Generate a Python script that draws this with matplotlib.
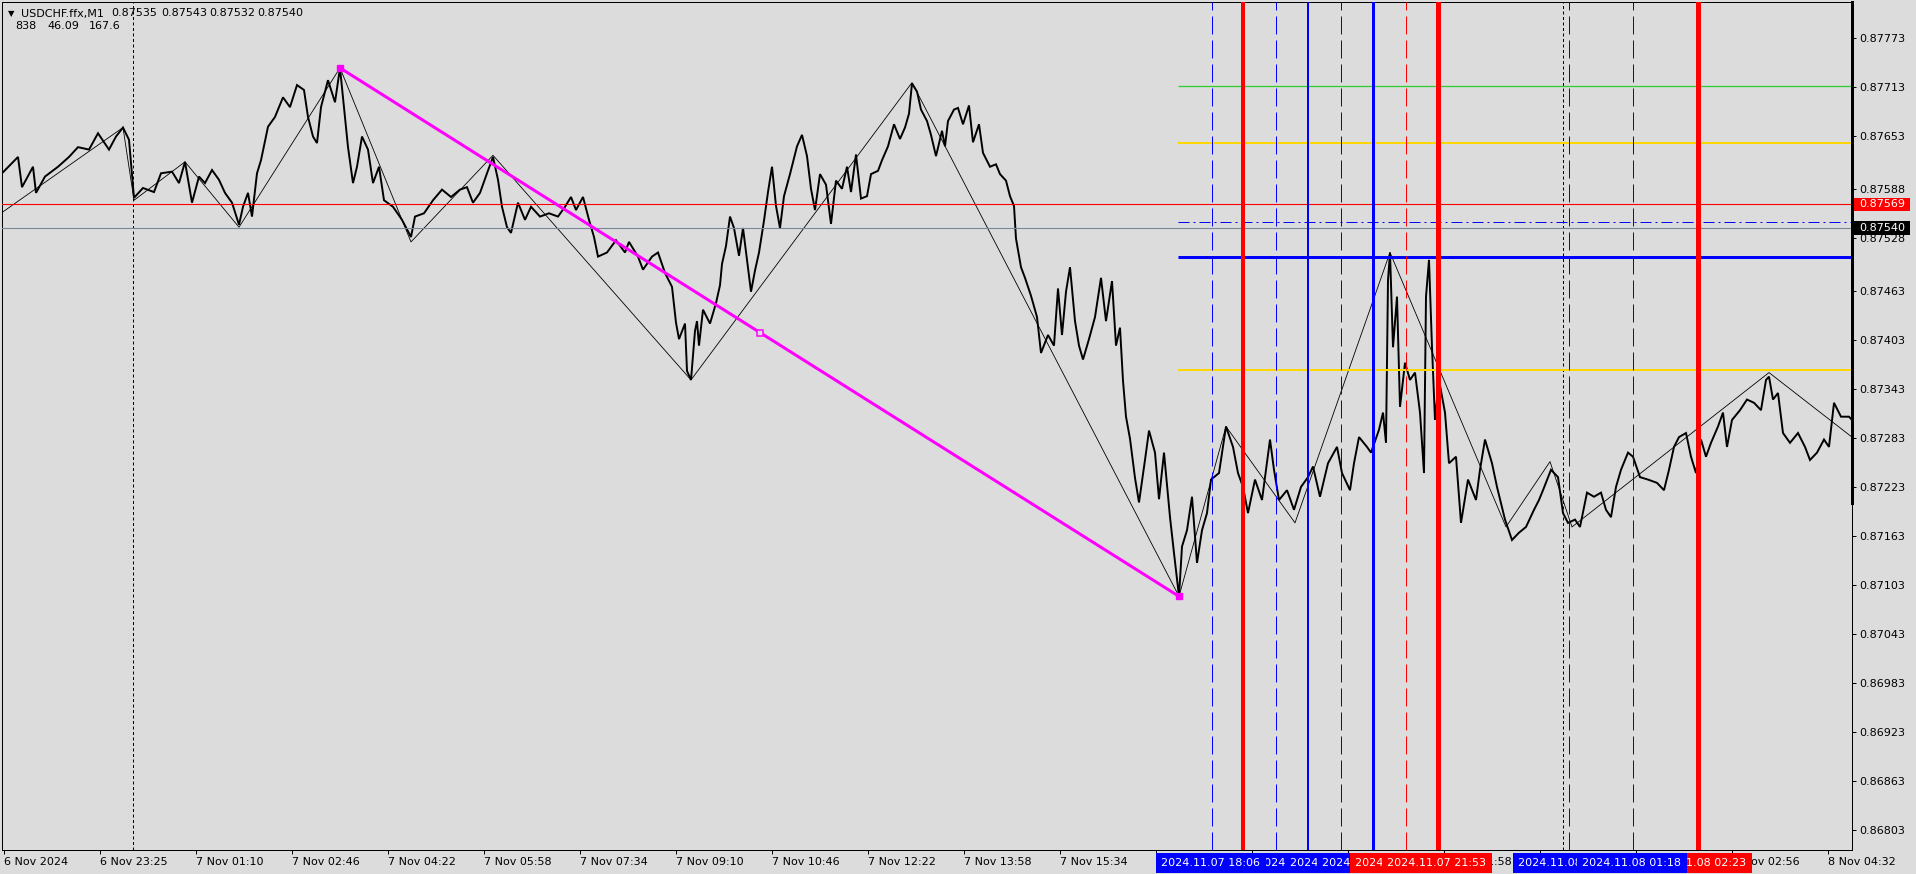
import matplotlib
matplotlib.use('Agg')
import matplotlib.pyplot as plt
from matplotlib.patches import Rectangle
from matplotlib.lines import Line2D
import matplotlib.transforms as mtransforms

plt.rcParams['font.family'] = ['DejaVu Sans']
plt.rcParams['lines.scale_dashes'] = False

W, H = 1916, 874
BG = '#DCDCDC'
PX = 0.72          # one pixel in points at dpi 100
FS = 8.0

# ---------------- data ----------------
bar = [2, 18, 22, 33, 36, 45, 58, 69, 78, 89, 98, 109, 116, 123, 129, 133, 134, 143, 154, 161,
       172, 179, 185, 192, 199, 205, 212, 219, 225, 232, 239, 243, 248, 252, 257, 261, 268, 275, 283, 290,
       297, 304, 308, 313, 317, 321, 328, 335, 340, 344, 348, 353, 357, 362, 368, 373, 379, 384, 393, 402,
       411, 415, 424, 433, 442, 451, 460, 467, 473, 480, 487, 493, 498, 502, 507, 511, 518, 525, 531, 540,
       549, 558, 565, 571, 576, 583, 589, 594, 598, 607, 616, 625, 629, 638, 643, 652, 658, 665, 672, 676,
       679, 685, 687, 691, 695, 697, 699, 703, 710, 716, 720, 722, 726, 730, 734, 739, 743, 747, 751, 755,
       759, 764, 768, 772, 776, 780, 784, 790, 797, 802, 807, 811, 815, 820, 826, 831, 836, 842, 847, 851,
       856, 861, 867, 871, 878, 882, 888, 894, 900, 905, 909, 912, 917, 921, 927, 931, 936, 942, 945, 948,
       954, 958, 963, 969, 973, 979, 983, 990, 996, 1000, 1006, 1010, 1014, 1016, 1021, 1025, 1031, 1037, 1041, 1048,
       1054, 1058, 1062, 1066, 1070, 1075, 1079, 1083, 1089, 1095, 1101, 1106, 1112, 1116, 1120, 1123, 1126, 1130, 1135, 1139,
       1145, 1149, 1155, 1159, 1164, 1170, 1174, 1179, 1182, 1187, 1192, 1197, 1202, 1207, 1211, 1219, 1226, 1233, 1238, 1243,
       1248, 1255, 1262, 1270, 1274, 1279, 1287, 1294, 1301, 1308, 1313, 1320, 1328, 1337, 1342, 1350, 1354, 1359, 1367, 1371,
       1379, 1383, 1386, 1388, 1390, 1393, 1397, 1400, 1405, 1410, 1415, 1420, 1424, 1426, 1429, 1432, 1435, 1439, 1445, 1449,
       1456, 1461, 1468, 1476, 1480, 1485, 1492, 1497, 1505, 1512, 1519, 1526, 1534, 1539, 1543, 1551, 1558, 1563, 1568, 1575,
       1580, 1587, 1594, 1601, 1606, 1611, 1616, 1621, 1628, 1633, 1640, 1648, 1657, 1664, 1669, 1674, 1679, 1686, 1691, 1696,
       1701, 1706, 1711, 1718, 1723, 1727, 1732, 1740, 1747, 1754, 1761, 1766, 1769, 1773, 1778, 1783, 1790, 1798, 1805, 1810,
       1817, 1824, 1829, 1834, 1841, 1849, 1852]
close = [0.87607, 0.87627, 0.87590, 0.87615, 0.87583, 0.87603, 0.87615, 0.87627, 0.87639, 0.87636,
         0.87656, 0.87636, 0.87652, 0.87663, 0.87648, 0.87590, 0.87577, 0.87589, 0.87584, 0.87607,
         0.87609, 0.87595, 0.87621, 0.87571, 0.87603, 0.87595, 0.87611, 0.87599, 0.87583, 0.87571,
         0.87544, 0.87566, 0.87583, 0.87554, 0.87607, 0.87623, 0.87664, 0.87676, 0.87700, 0.87688,
         0.87715, 0.87709, 0.87676, 0.87652, 0.87644, 0.87688, 0.87721, 0.87694, 0.87736, 0.87688,
         0.87639, 0.87595, 0.87615, 0.87652, 0.87636, 0.87595, 0.87615, 0.87574, 0.87566, 0.87550,
         0.87529, 0.87554, 0.87558, 0.87574, 0.87587, 0.87578, 0.87587, 0.87590, 0.87571, 0.87583,
         0.87607, 0.87627, 0.87599, 0.87566, 0.87541, 0.87534, 0.87571, 0.87550, 0.87566, 0.87554,
         0.87558, 0.87554, 0.87566, 0.87578, 0.87562, 0.87578, 0.87550, 0.87529, 0.87505, 0.87510,
         0.87525, 0.87510, 0.87523, 0.87505, 0.87489, 0.87505, 0.87510, 0.87485, 0.87468, 0.87424,
         0.87404, 0.87423, 0.87365, 0.87354, 0.87414, 0.87426, 0.87396, 0.87440, 0.87423, 0.87448,
         0.87470, 0.87496, 0.87518, 0.87554, 0.87540, 0.87506, 0.87540, 0.87501, 0.87462, 0.87488,
         0.87510, 0.87549, 0.87584, 0.87615, 0.87567, 0.87540, 0.87579, 0.87606, 0.87640, 0.87654,
         0.87628, 0.87588, 0.87562, 0.87606, 0.87593, 0.87545, 0.87598, 0.87588, 0.87615, 0.87584,
         0.87630, 0.87576, 0.87579, 0.87606, 0.87610, 0.87623, 0.87640, 0.87667, 0.87649, 0.87663,
         0.87680, 0.87717, 0.87707, 0.87685, 0.87671, 0.87654, 0.87628, 0.87659, 0.87640, 0.87671,
         0.87685, 0.87687, 0.87667, 0.87690, 0.87645, 0.87667, 0.87632, 0.87615, 0.87618, 0.87606,
         0.87598, 0.87579, 0.87567, 0.87527, 0.87492, 0.87479, 0.87457, 0.87431, 0.87387, 0.87409,
         0.87396, 0.87466, 0.87409, 0.87462, 0.87492, 0.87426, 0.87396, 0.87379, 0.87404, 0.87431,
         0.87479, 0.87426, 0.87475, 0.87396, 0.87418, 0.87353, 0.87309, 0.87282, 0.87234, 0.87204,
         0.87256, 0.87292, 0.87265, 0.87208, 0.87265, 0.87186, 0.87142, 0.87089, 0.87150, 0.87170,
         0.87211, 0.87130, 0.87170, 0.87191, 0.87232, 0.87240, 0.87297, 0.87272, 0.87240, 0.87223,
         0.87191, 0.87232, 0.87207, 0.87281, 0.87244, 0.87207, 0.87219, 0.87195, 0.87223, 0.87235,
         0.87248, 0.87211, 0.87252, 0.87272, 0.87240, 0.87219, 0.87252, 0.87284, 0.87272, 0.87265,
         0.87293, 0.87314, 0.87277, 0.87476, 0.87510, 0.87394, 0.87456, 0.87321, 0.87375, 0.87354,
         0.87363, 0.87314, 0.87240, 0.87456, 0.87501, 0.87394, 0.87305, 0.87354, 0.87314, 0.87252,
         0.87260, 0.87179, 0.87232, 0.87207, 0.87244, 0.87281, 0.87252, 0.87223, 0.87183, 0.87158,
         0.87167, 0.87174, 0.87195, 0.87207, 0.87219, 0.87244, 0.87235, 0.87191, 0.87179, 0.87183,
         0.87174, 0.87216, 0.87211, 0.87216, 0.87195, 0.87186, 0.87223, 0.87244, 0.87265, 0.87260,
         0.87235, 0.87232, 0.87228, 0.87219, 0.87244, 0.87272, 0.87284, 0.87289, 0.87260, 0.87240,
         0.87281, 0.87260, 0.87277, 0.87297, 0.87314, 0.87272, 0.87305, 0.87317, 0.87330, 0.87326,
         0.87317, 0.87354, 0.87358, 0.87330, 0.87338, 0.87289, 0.87277, 0.87289, 0.87272, 0.87256,
         0.87265, 0.87281, 0.87272, 0.87326, 0.87309, 0.87309, 0.87305]

zz_bar = [2, 123, 134, 185, 239, 340, 411, 493, 691, 912, 1179, 1226, 1295, 1390, 1506, 1550, 1572, 1769, 1852]
zz_price = [0.87559, 0.87663, 0.87574, 0.87621, 0.87541, 0.87736, 0.87523, 0.87629, 0.87354, 0.87718,
            0.87089, 0.87297, 0.87179, 0.87510, 0.87174, 0.87254, 0.87174, 0.87363, 0.87284]

trend_bar = [340, 760, 1179]
trend_price = [0.87736, 0.87412, 0.87089]

full_hline_price = [0.87569, 0.87540]
full_hline_color = ['#FF0000', '#778899']

level_start = 1178
level_price = [0.87714, 0.87644, 0.87547, 0.87504, 0.87366]
level_color = ['#32CD32', '#FFD700', '#0000FF', '#0000FF', '#FFD700']
level_width = [1.3, 2.0, 1.0, 3.0, 2.0]
level_style = ['solid', 'solid', 'dashdot', 'solid', 'solid']

vline_bar = [1212, 1243, 1276, 1308, 1341, 1373, 1406, 1438, 1569, 1633, 1698]
vline_color = ['#0000FF', '#FF0000', '#0000FF', '#0000FF', '#0000FF', '#0000FF', '#FF0000', '#FF0000',
               '#0000FF', '#0000FF', '#FF0000']
vline_width = [1, 4, 1, 2, 1, 3, 1, 5, 1, 1, 5]
vline_dashed = [True, False, True, False, True, False, True, False, True, True, False]
vline_label = ['2024.11.07 18:06', '2024.11.07 18:37', '2024.11.07 19:11', '2024.11.07 19:43',
               '2024.11.07 20:16', '2024.11.07 20:47', '2024.11.07 21:20', '2024.11.07 21:53',
               '2024.11.08 00:13', '2024.11.08 01:18', '2024.11.08 02:23']
vline_label_z = [14, 10, 11, 12, 13, 15, 16, 17, 21, 22, 20]

sep_bar = [133, 1563]

ytick_price = [0.87773, 0.87713, 0.87653, 0.87588, 0.87528, 0.87463, 0.87403, 0.87343, 0.87283,
               0.87223, 0.87163, 0.87103, 0.87043, 0.86983, 0.86923, 0.86863, 0.86803]
xtick_bar = [4, 100, 196, 292, 388, 484, 580, 676, 772, 868, 964, 1060, 1156, 1252, 1348, 1444,
             1540, 1636, 1732, 1828]
xtick_label = ['6 Nov 2024', '6 Nov 23:25', '7 Nov 01:10', '7 Nov 02:46', '7 Nov 04:22', '7 Nov 05:58',
               '7 Nov 07:34', '7 Nov 09:10', '7 Nov 10:46', '7 Nov 12:22', '7 Nov 13:58', '7 Nov 15:34',
               '7 Nov 17:10', '7 Nov 18:46', '7 Nov 20:22', '7 Nov 21:58', '7 Nov 23:34', '8 Nov 01:20',
               '8 Nov 02:56', '8 Nov 04:32']

symbol = 'USDCHF.ffx,M1'
ohlc = ['0.87535', '0.87543', '0.87532', '0.87540']
info = ['838', '46.09', '167.6']

# ---------------- figure ----------------
fig = plt.figure(figsize=(W / 100, H / 100), dpi=100, facecolor=BG)
ax = fig.add_axes([2 / W, 1 - 850 / H, 1850 / W, 848 / H])
ax.set_facecolor(BG)
ax.set_xlim(2, 1852)
ax.set_ylim(0.867785, 0.878167)

for s in ax.spines.values():
    s.set_linewidth(PX)
    s.set_color('black')

# price + zigzag
ax.plot(bar, close, color='black', lw=1.4, zorder=3, solid_joinstyle='miter')
ax.plot(zz_bar, zz_price, color='black', lw=0.6, zorder=4)

# horizontal lines
for p, c in zip(full_hline_price, full_hline_color):
    ax.axhline(p, color=c, lw=PX * 1.1, zorder=6)
for p, c, w, st in zip(level_price, level_color, level_width, level_style):
    ln = ax.hlines(p, level_start, 1852, colors=c, lw=w * PX, zorder=6)
    if st == 'dashdot':
        ln.set_linestyle((0, (11 * PX, 4 * PX, 2 * PX, 4 * PX)))

# vertical lines
for x, c, w, d in zip(vline_bar, vline_color, vline_width, vline_dashed):
    ln = ax.axvline(x, color=c, lw=w * PX, zorder=7)
    if d:
        ln.set_dashes((18 * PX, 6 * PX))
for x in sep_bar:
    ln = ax.axvline(x, color='black', lw=PX, zorder=5)
    ln.set_dashes((3 * PX, 2.5 * PX))

# trend line
ax.plot(trend_bar, trend_price, color='#FF00FF', lw=3 * PX, zorder=8)
ax.plot([trend_bar[0], trend_bar[-1]], [trend_price[0], trend_price[-1]], ls='none', marker='s',
        ms=6 * PX, mfc='#FF00FF', mec='#FF00FF', zorder=9)
ax.plot([trend_bar[1]], [trend_price[1]], ls='none', marker='s', ms=6 * PX, mfc=BG, mec='#FF00FF',
        mew=1.5 * PX, zorder=9)

# axes ticks
ax.yaxis.tick_right()
ax.set_yticks(ytick_price)
ax.set_yticklabels([f'{v:.5f}' for v in ytick_price], fontsize=FS)
ax.set_xticks(xtick_bar)
ax.set_xticklabels(xtick_label, fontsize=FS)
for lbl in ax.get_xticklabels():
    lbl.set_ha('left')
ax.tick_params(axis='both', length=4 * PX, width=PX, color='black', labelcolor='black')
ax.tick_params(axis='y', pad=3.5 * PX)
ax.tick_params(axis='x', pad=3 * PX)

# vertical line time labels on the time axis
trans = mtransforms.blended_transform_factory(ax.transData, ax.transAxes)
y0 = (850 - 872.5) / 848
hgt = 19.5 / 848
for x, c, t, z in zip(vline_bar, vline_color, vline_label, vline_label_z):
    ax.add_patch(Rectangle((x - 56, y0), 110, hgt, transform=trans, facecolor=c, edgecolor='none',
                           clip_on=False, zorder=z))
    ax.text(x - 51, y0 + hgt / 2, t, transform=trans, color='white', fontsize=FS, va='center',
            ha='left', clip_on=False, zorder=z + 0.5)

# price labels on the price axis
trans2 = mtransforms.blended_transform_factory(fig.transFigure, ax.transData)
for p, c in zip(full_hline_price, ['#FF0000', '#000000']):
    fig.patches.append(Rectangle((1853.5 / W, p - 6.7 / 81680), 56 / W, 13.4 / 81680, transform=trans2,
                                 facecolor=c, edgecolor='none', zorder=10))
    fig.text(1859 / W, p, f'{p:.5f}', transform=trans2, color='white', fontsize=FS, va='center',
             ha='left', zorder=11)

# thick part of the right frame
fig.add_artist(Line2D([1851.5 / W] * 2, [1 - 2 / H, 1 - 503 / H], lw=3 * PX, color='black'))

# header text
fig.text(8 / W, 1 - 16.5 / H, '\u25BC', fontsize=6, color='black', va='baseline', ha='left')
fig.text(21.5 / W, 1 - 16.5 / H, symbol, fontsize=FS, color='black', va='baseline', ha='left')
for xx, t in zip([111.5, 161.5, 209, 257.5], ohlc):
    fig.text(xx / W, 1 - 16.5 / H, t, fontsize=FS, color='black', va='baseline', ha='left')
for xx, t in zip([15.5, 47.5, 88.5], info):
    fig.text(xx / W, 1 - 29 / H, t, fontsize=FS, color='black', va='baseline', ha='left')

fig.savefig('out.png', dpi=100, facecolor=BG)
